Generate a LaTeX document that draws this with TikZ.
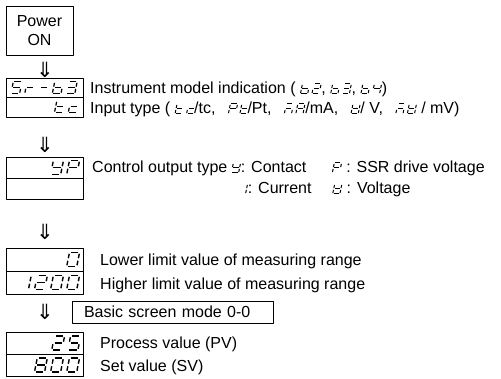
\documentclass[tikz,border=0pt]{standalone}
\usepackage{fontspec}
\setmainfont{Liberation Sans}
\newfontfamily\arrowfont{DejaVu Sans}
\usetikzlibrary{positioning}

% Segmentos del visor (celda de altura 1)
\newcommand{\defseg}[2]{\expandafter\def\csname lcds#1\endcsname{#2}}
\defseg{a}{(0.10,1) -- (0.62,1)}
\defseg{b}{(0.72,0.91) -- (0.72,0.59)}
\defseg{c}{(0.72,0.41) -- (0.72,0.09)}
\defseg{d}{(0.10,0) -- (0.62,0)}
\defseg{e}{(0,0.41) -- (0,0.09)}
\defseg{f}{(0,0.91) -- (0,0.59)}
\defseg{g}{(0.10,0.5) -- (0.62,0.5)}

% Caracteres del visor
\newcommand{\defchar}[2]{\expandafter\def\csname lcdc#1\endcsname{#2}}
\defchar{0}{a,b,c,d,e,f}
\defchar{1}{b,c}
\defchar{2}{a,b,d,e,g}
\defchar{3}{a,b,c,d,g}
\defchar{4}{b,c,f,g}
\defchar{5}{a,c,d,f,g}
\defchar{8}{a,b,c,d,e,f,g}
\defchar{b}{c,d,e,f,g}
\defchar{c}{d,e,g}
\defchar{t}{d,e,f,g}
\defchar{r}{e,g}
\defchar{-}{g}
\defchar{y}{b,c,d,f,g}
\defchar{P}{a,b,e,f,g}
\defchar{A}{a,b,c,e,f,g}
\defchar{m}{a,c,e,g}
\defchar{V}{b,c,d,e,f,g}

% Texto de 7 segmentos en línea: \lcd[altura]{c,a,r}
\newcommand{\lcd}[2][10]{%
  \tikz[baseline=0pt,x=#1pt,y=#1pt,line width={0.1pt*#1}]{%
    \foreach \c [count=\i from 0] in {#2} {
      \edef\seglist{\csname lcdc\c\endcsname}
      \begin{scope}[shift={(\i*1.15,0)},xslant=0.2]
        \foreach \s in \seglist {\draw \csname lcds\s\endcsname;}
      \end{scope}
    }}}

\begin{document}
\begin{tikzpicture}[x=1pt,y=-1pt,line cap=round,line join=round,
    font=\fontsize{16}{19}\selectfont,
    caja/.style={draw,line width=0.8pt,outer sep=0pt,inner sep=0pt},
    fila/.style={caja,minimum width=77,text width=71,align=right},
    linea/.style={anchor=base west,inner sep=0pt},
    flecha/.style={font=\arrowfont\fontsize{21}{21}\selectfont,inner sep=0pt}]
  \useasboundingbox (0,0) rectangle (501,379);

  % Encendido
  \node[caja,anchor=north west,minimum width=67,minimum height=49,
        align=center] (power) at (6,6) {Power\\ON};
  \node[flecha] (f1) at (45,70) {⇓};

  % Modelo y tipo de entrada
  \node[fila,text width=66,minimum height=19.5,anchor=north west]
      (modelo) at (6,78) {\lcd[12]{5,r,-,b,3}};
  \node[fila,text width=66,minimum height=19.5,below=0pt of modelo]
      (entrada) {\lcd[12]{t,c}};
  \node[linea] (tmodelo) at (90,94)
      {Instrument model indication ( \lcd{b,2}, \lcd{b,3}, \lcd{b,4})};
  \node[linea] (tentrada) at (90,114)
      {Input type ( \lcd{t,c}/tc,\hspace{0.5em} \lcd{P,t}/Pt,\hspace{0.5em}
       \lcd{m,A}/mA,\hspace{0.5em} \lcd{V}/ V,\hspace{0.5em} \lcd{m,V} / mV)};
  \node[flecha] (f2) at (45,145) {⇓};

  % Tipo de salida de control
  \node[fila,minimum height=21,anchor=north west]
      (salida) at (6,157) {\lcd[14]{y,P}};
  \node[fila,minimum height=21,below=0pt of salida] (salida2) {};
  \node[linea] (tsalida) at (92,173)
      {Control output type \lcd{y}: Contact\hspace{1.6em}\lcd{P} : SSR drive voltage};
  \node[linea] (tsalida2) at (245,194)
      {\lcd{1}: Current\hspace{1.3em}\lcd{V} : Voltage};
  \node[flecha] (f3) at (45,232) {⇓};

  % Rango de medida
  \node[fila,minimum height=23,anchor=north west]
      (inferior) at (6,248) {\lcd[14]{0}};
  \node[fila,minimum height=23,below=0pt of inferior]
      (superior) {\lcd[14]{1,2,0,0}};
  \node[linea] (tinferior) at (100,266) {Lower limit value of measuring range};
  \node[linea] (tsuperior) at (100,290) {Higher limit value of measuring range};

  % Pantalla básica
  \node[flecha] (f4) at (45,312) {⇓};
  \node[caja,anchor=north west,minimum width=201,minimum height=22,
        text width=177,inner xsep=12,align=left] (basica) at (72,301)
      {Basic screen mode 0-0};
  \node[fila,minimum height=22,anchor=north west]
      (pv) at (6,332) {\lcd[14]{2,5}};
  \node[fila,minimum height=22,below=0pt of pv] (sv) {\lcd[14]{8,0,0}};
  \node[linea] (tpv) at (100,349) {Process value (PV)};
  \node[linea] (tsv) at (100,372) {Set value (SV)};
\end{tikzpicture}
\end{document}
